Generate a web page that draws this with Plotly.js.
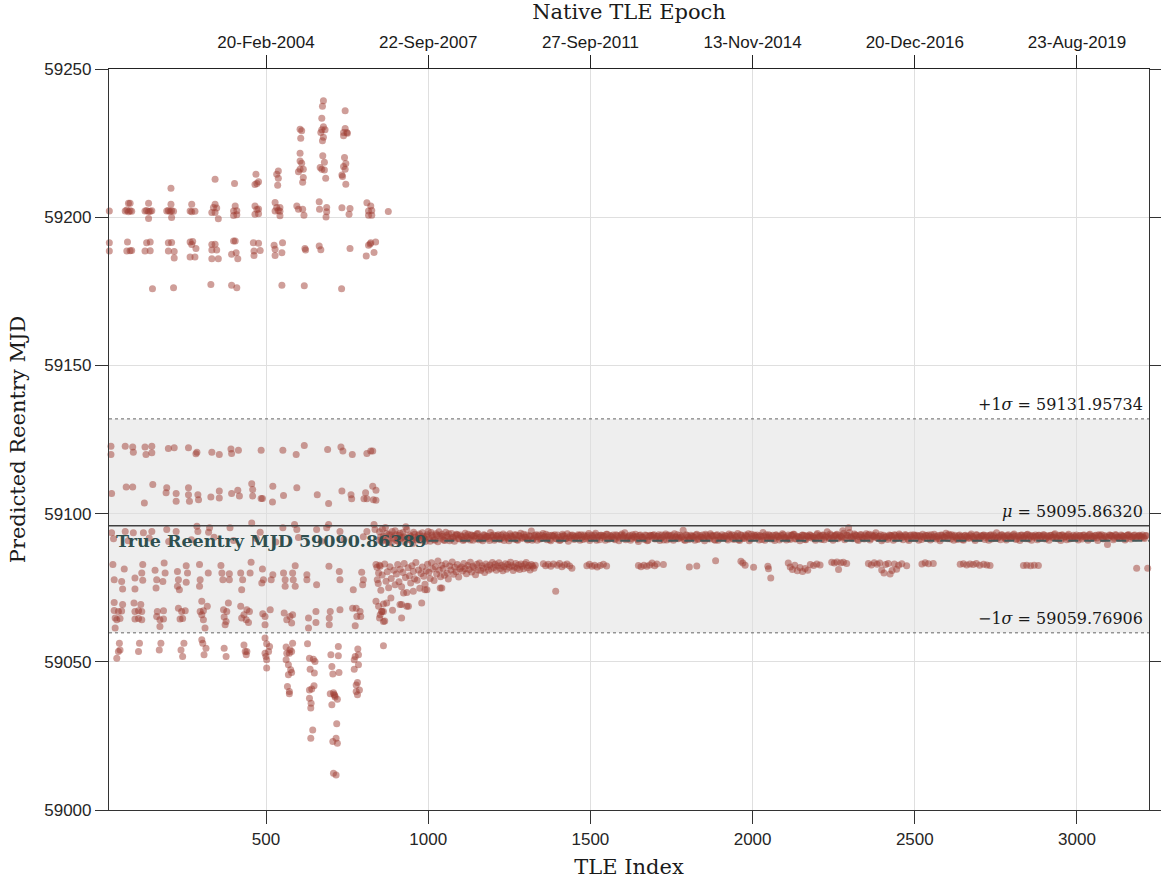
<!DOCTYPE html>
<html>
<head>
<meta charset="utf-8">
<script src="https://cdn.plot.ly/plotly-3.0.1.min.js"></script>
<style>html,body{margin:0;padding:0;background:#fff;}#chart{width:1161px;height:880px;}</style>
</head>
<body>
<div id="chart"></div>
<script>
// ---------- Summary statistics ----------
const MU = 59095.86320;
const SIGMA_PLUS = 59131.95734;
const SIGMA_MINUS = 59059.76906;
const TRUE_REENTRY = 59090.86389;

// ---------- Top axis (native TLE epoch) ----------
const epochTickIdx = [500, 1000, 1500, 2000, 2500, 3000];
const epochTickText = ['20-Feb-2004', '22-Sep-2007', '27-Sep-2011', '13-Nov-2014', '20-Dec-2016', '23-Aug-2019'];

// ---------- Early era: upper cluster [TLE index, predicted MJD] ----------
const upperPts = [
  [17,59202.1],[17,59191.4],[17,59188.6],
  [76,59204.7],[81,59204.7],[66,59202.1],[71,59202.4],[76,59201.8],[81,59202.2],[86,59202.0],[73,59191.6],[71,59188.6],[81,59188.7],[86,59188.8],
  [138,59204.7],[127,59202.1],[132,59202.3],[138,59201.9],[143,59202.0],[148,59202.2],[138,59199.6],[132,59191.4],[143,59191.6],[127,59188.6],[143,59188.7],[150,59175.9],
  [207,59209.8],[207,59204.4],[194,59202.1],[199,59202.3],[204,59201.9],[209,59202.2],[215,59202.0],[209,59199.9],[199,59191.4],[209,59191.5],[199,59188.6],[217,59188.4],[217,59186.2],[215,59176.2],
  [271,59204.4],[266,59202.1],[271,59201.8],[281,59202.0],[266,59191.6],[274,59191.8],[271,59190.8],[284,59189.4],[266,59186.6],[281,59186.6],
  [343,59212.8],[343,59204.4],[338,59203.3],[348,59203.1],[333,59201.6],[343,59201.6],[353,59199.5],[333,59190.8],[343,59190.9],[333,59188.9],[348,59188.9],[333,59186.0],[353,59186.0],[330,59177.3],
  [403,59211.4],[405,59203.8],[400,59202.1],[410,59202.2],[400,59200.6],[410,59200.8],[400,59192.0],[405,59192.0],[408,59188.0],[394,59187.5],[413,59186.0],[394,59177.0],[410,59176.2],
  [469,59214.5],[466,59211.0],[472,59211.4],[477,59212.0],[466,59203.8],[472,59202.6],[477,59202.8],[466,59201.0],[477,59201.2],[461,59191.4],[477,59191.2],[463,59188.6],[482,59188.8],[463,59187.1],
  [538,59215.6],[533,59214.5],[538,59213.1],[536,59210.8],[528,59205.0],[533,59203.3],[543,59203.3],[528,59202.1],[538,59202.3],[543,59202.0],[543,59200.5],[525,59190.5],[528,59189.2],[549,59188.0],[551,59191.4],[528,59187.1],[549,59177.0],
  [605,59229.7],[610,59229.2],[607,59226.6],[605,59221.6],[605,59219.0],[610,59218.2],[605,59216.2],[615,59216.2],[600,59215.3],[615,59213.4],[613,59211.8],[595,59203.8],[600,59202.7],[613,59202.7],[617,59200.7],[620,59189.4],[622,59188.9],[618,59176.9],
  [677,59239.3],[674,59237.4],[672,59233.4],[677,59230.5],[682,59229.5],[672,59229.5],[669,59228.6],[677,59227.0],[674,59225.8],[675,59220.7],[680,59218.5],[667,59216.8],[672,59216.2],[680,59215.9],[684,59213.1],[664,59205.2],[687,59203.3],[665,59202.7],[687,59201.8],[685,59200.1],[664,59190.3],[669,59189.0],
  [744,59235.9],[744,59229.9],[739,59228.6],[749,59228.6],[751,59228.3],[739,59227.5],[742,59220.1],[746,59218.1],[739,59217.1],[744,59216.2],[734,59214.2],[736,59213.7],[746,59211.1],[734,59203.2],[759,59202.9],[756,59201.0],[759,59189.4],[733,59175.9],
  [811,59204.9],[823,59203.8],[816,59202.1],[826,59202.3],[816,59200.7],[826,59200.7],[823,59191.4],[838,59191.6],[816,59190.5],[821,59191.0],[833,59188.1],[809,59186.9],
  [877,59201.9]
];

// ---------- Early era: rows inside the 1-sigma band above the mean ----------
const upperBandPts = [
  [22,59122.7],[22,59119.9],[66,59122.7],[89,59122.5],[91,59120.7],[127,59122.5],[130,59119.9],[148,59122.7],[148,59120.5],[199,59122.0],[217,59122.2],[261,59122.2],[287,59120.7],[284,59120.2],[333,59120.7],[356,59119.9],[392,59121.8],[394,59120.3],[415,59121.4],[485,59121.4],[552,59121.4],[593,59119.9],[618,59123.0],[690,59121.6],[731,59122.5],[737,59121.1],[766,59119.9],[811,59120.3],[823,59121.1],[829,59121.1],
  [24,59106.8],[69,59109.0],[89,59109.0],[125,59103.6],[151,59109.8],[194,59108.7],[192,59107.0],[223,59106.8],[223,59104.2],[261,59108.7],[261,59106.4],[264,59104.2],[290,59106.4],[292,59104.7],[330,59105.6],[356,59107.6],[356,59105.3],[394,59106.8],[413,59107.9],[418,59105.9],[456,59110.1],[459,59108.1],[459,59105.9],[485,59105.1],[489,59105.1],[521,59109.2],[520,59103.9],[554,59106.1],[595,59108.7],[658,59106.4],[693,59103.4],[734,59107.6],[762,59106.4],[764,59105.0],[802,59105.0],[807,59107.0],[811,59105.0],[829,59109.2],[831,59104.7],[839,59107.9],[839,59104.5]
];

// ---------- Early era: rows around the mean / true reentry ----------
const nearMeanPts = [
  [24,59093.5],[66,59094.0],[91,59093.5],[122,59093.5],[148,59094.0],[194,59094.6],[223,59094.0],[287,59095.7],[290,59094.0],[326,59095.2],[323,59093.7],[389,59095.2],[456,59096.8],[482,59093.7],[552,59095.2],[588,59096.3],[595,59094.6],[656,59094.6],[687,59095.2],[693,59096.3],[728,59094.0],[811,59094.0],[833,59096.3],[836,59094.6],
  [30,59091.5],[75,59090.8],[140,59091.8],[200,59090.6],[270,59091.2],[340,59092.0],[400,59090.9],[470,59091.6],[530,59090.4],[600,59091.9],[670,59090.7],[740,59091.3],[800,59092.2],[850,59091.0]
];

// ---------- Early era: rows inside the band below the mean ----------
const lowerBandPts = [
  [28,59082.8],[32,59077.7],[55,59077.1],[58,59074.6],[32,59070.0],[58,59069.3],[32,59067.3],[45,59067.0],[55,59067.1],[35,59064.8],[50,59064.6],[40,59064.2],[35,59061.4],
  [120,59082.8],[63,59081.3],[117,59080.0],[96,59078.3],[120,59077.5],[96,59074.6],[93,59069.8],[114,59069.3],[96,59067.0],[107,59067.2],[117,59067.0],[96,59064.4],[107,59064.6],[117,59064.2],
  [186,59083.3],[158,59080.9],[189,59080.0],[163,59077.7],[161,59074.9],[182,59077.1],[165,59067.0],[184,59067.2],[163,59065.3],[173,59064.2],[184,59064.4],[173,59061.9],
  [254,59082.4],[227,59080.5],[258,59080.0],[230,59077.7],[254,59076.8],[227,59075.5],[233,59074.3],[230,59068.1],[240,59067.0],[251,59067.2],[235,59064.4],[243,59064.6],
  [295,59082.8],[322,59080.0],[297,59077.7],[295,59075.5],[302,59070.4],[319,59068.7],[297,59067.0],[307,59067.2],[302,59065.9],[307,59064.2],[312,59061.4],
  [361,59082.5],[387,59079.7],[364,59080.0],[367,59077.7],[387,59077.7],[384,59069.8],[369,59067.6],[379,59067.0],[371,59065.1],[377,59063.6],[374,59062.5],
  [454,59083.6],[422,59080.0],[451,59080.0],[428,59077.7],[425,59074.3],[422,59068.7],[441,59067.6],[449,59067.0],[432,59065.9],[439,59064.2],[446,59063.3],[425,59064.8],
  [489,59081.3],[521,59079.4],[492,59077.7],[516,59077.7],[487,59076.6],[513,59067.6],[490,59066.2],[497,59065.3],[497,59062.5],
  [590,59082.4],[554,59080.0],[582,59080.0],[559,59077.7],[584,59077.7],[559,59075.5],[590,59075.5],[556,59066.5],[574,59065.3],[564,59064.2],[579,59063.1],[582,59065.9],
  [626,59079.4],[626,59077.7],[656,59076.0],[654,59067.0],[631,59064.8],[654,59063.3],[631,59061.4],
  [694,59082.2],[726,59080.5],[728,59077.7],[728,59067.6],[698,59067.0],[695,59064.8],[695,59062.5],
  [795,59080.2],[800,59077.7],[798,59076.0],[769,59074.3],[767,59068.1],[778,59068.1],[790,59067.0],[780,59065.3],[792,59065.3],[775,59062.2],
  [839,59082.8],[852,59082.2],[847,59080.0],[843,59077.7],[839,59070.4],[847,59068.7],[857,59067.0],[862,59067.0],[852,59065.9],[850,59064.8],[862,59063.6]
];

// ---------- Early era: below the band (lower tail) ----------
const lowerTailPts = [
  [48,59056.3],[45,59053.5],[50,59054.0],[40,59051.2],
  [110,59056.3],[107,59053.5],
  [176,59056.3],[171,59054.0],
  [247,59056.3],[238,59054.0],[243,59051.8],
  [302,59057.4],[305,59056.3],[315,59054.6],[309,59052.4],
  [371,59054.6],[377,59051.8],
  [432,59055.7],[441,59053.5],[436,59053.5],[439,59052.4],
  [497,59058.0],[502,59056.1],[511,59055.2],[508,59053.5],[497,59052.9],[500,59051.8],[502,59050.7],[502,59047.9],
  [582,59056.3],[562,59055.0],[574,59054.1],[579,59053.5],[564,59052.9],[572,59052.9],[562,59050.7],[569,59049.0],[576,59047.3],[579,59046.4],[569,59045.6],[566,59041.7],[572,59040.0],[572,59039.2],
  [628,59056.1],[634,59051.2],[646,59050.9],[651,59050.1],[636,59047.5],[649,59046.2],[648,59041.9],[641,59040.8],[634,59040.5],[634,59037.7],[639,59036.0],[638,59034.4],[644,59027.0],[638,59024.2],
  [723,59055.2],[700,59052.4],[723,59052.0],[703,59048.4],[725,59046.4],[706,59045.9],[708,59039.6],[698,59039.2],[713,59038.1],[720,59037.4],[710,59039.0],[712,59038.6],[703,59035.5],[718,59029.1],[716,59024.2],[706,59023.1],[720,59022.5],[708,59012.4],[716,59011.8],
  [783,59054.3],[785,59052.4],[775,59051.8],[772,59050.7],[785,59049.0],[772,59047.5],[782,59043.0],[778,59042.2],[788,59040.5],[778,59040.0],[782,59038.9],
  [862,59055.4]
];

// ---------- Converged era: main band near true reentry (sequential TLE index), two interleaved runs ----------
const mainBandStartIdx = 850;
const mainBandIdxStep = 6;
const mainBandMjd = [
  59093.9,59090.6,59092.4,59095.3,59091.2,59093.1,59090.1,59092.0,59094.2,59090.8,59092.7,59091.5,59093.6,59090.4,59094.6,59091.8,59092.3,59089.9,59093.0,59091.1,
  59092.6,59090.9,59093.5,59091.6,59092.2,59094.0,59090.7,59092.8,59091.3,59093.2,59090.5,59092.5,59093.0,59091.1,59093.7,59092.1,59090.8,59093.3,59091.9,59092.6,
  59092.9,59091.4,59092.3,59090.9,59093.4,59092.0,59091.7,59092.8,59091.0,59092.5,59093.1,59091.2,59092.2,59090.8,59092.7,59092.4,59091.6,59093.6,59092.1,59091.0,
  59092.6,59092.9,59091.3,59092.0,59090.9,59092.7,59091.7,59093.2,59092.3,59091.4,59092.8,59091.0,59092.4,59091.8,59093.0,59092.0,59091.1,59092.5,59094.1,59091.5,
  59092.2,59091.0,59092.8,59091.6,59093.3,59092.3,59091.2,59092.7,59090.8,59092.5,59092.9,59091.4,59092.0,59091.1,59093.0,59092.4,59091.7,59090.7,59092.6,59092.8,
  59091.3,59092.4,59092.9,59091.0,59092.1,59092.8,59091.5,59092.6,59090.9,59092.7,59091.8,59093.4,59092.0,59091.2,59092.7,59092.5,59091.0,59093.0,59091.4,59092.2,
  59092.8,59091.2,59092.6,59090.8,59092.7,59092.1,59093.5,59091.7,59092.4,59091.0,59092.9,59091.9,59092.3,59090.6,59092.8,59092.0,59091.3,59092.6,59091.0,59092.7,
  59092.1,59092.9,59091.6,59092.4,59090.9,59092.8,59091.1,59093.1,59092.5,59091.4,59092.7,59091.0,59092.2,59092.9,59091.8,59092.0,59094.4,59090.9,59092.6,59091.3,
  59092.7,59092.3,59091.0,59093.0,59091.5,59092.1,59092.8,59090.8,59092.6,59091.7,59093.2,59092.4,59091.2,59092.7,59091.0,59092.2,59092.9,59091.8,59092.4,59091.1,
  59092.6,59092.9,59091.3,59092.0,59093.3,59090.9,59092.6,59091.6,59092.8,59092.2,59090.8,59093.0,59091.8,59092.5,59092.8,59091.1,59092.3,59093.6,59091.0,59092.1,
  59092.9,59091.4,59092.7,59090.9,59092.8,59092.3,59091.7,59093.2,59092.0,59091.1,59092.8,59091.3,59092.6,59093.0,59091.5,59092.2,59090.8,59092.7,59092.6,59091.2,
  59092.4,59092.9,59091.8,59092.1,59091.0,59093.3,59092.5,59091.3,59092.8,59092.0,59093.9,59091.6,59092.7,59091.0,59092.6,59093.0,59091.9,59092.3,59094.2,59091.2,
  59092.8,59095.2,59092.2,59091.5,59093.1,59092.6,59090.9,59092.9,59092.1,59091.4,59093.2,59092.7,59091.1,59092.8,59092.3,59093.5,59091.7,59092.4,59090.8,59092.7,
  59092.0,59091.3,59092.8,59092.5,59091.0,59092.7,59091.9,59093.1,59092.4,59091.2,59092.9,59092.2,59090.9,59092.8,59091.6,59092.6,59092.7,59091.0,59092.3,59093.0,
  59091.8,59092.5,59092.8,59091.1,59092.1,59093.0,59091.4,59092.6,59090.8,59092.7,59092.0,59093.4,59091.5,59092.6,59092.9,59091.0,59092.2,59091.3,59092.8,59092.4,
  59091.0,59092.7,59092.4,59091.7,59093.1,59092.1,59090.9,59092.8,59091.9,59092.5,59092.7,59091.3,59092.6,59091.0,59092.9,59092.3,59091.6,59093.5,59092.0,59091.2,
  59092.8,59092.4,59091.1,59092.9,59091.8,59092.2,59093.1,59091.3,59092.6,59090.9,59092.8,59092.0,59091.5,59093.0,59092.6,59091.0,59092.4,59092.8,59091.2,59092.7,
  59092.2,59092.9,59091.4,59092.5,59091.0,59092.7,59092.1,59093.2,59091.7,59092.7,59090.9,59092.8,59092.3,59091.2,59093.0,59092.4,59091.6,59092.0,59092.8,59091.1,
  59092.6,59091.4,59092.8,59092.1,59091.0,59093.0,59092.4,59091.8,59092.7,59090.9,59092.6,59092.9,59091.5,59092.2,59089.6,59092.8,59092.5,59091.2,59092.9,59092.0,
  59091.7,59092.8,59092.4,59091.1,59092.7,59092.9,59091.4,59092.1,59092.8,59091.9,59092.5,59092.3,59092.8,59091.6,59092.6
];
const mainBandStartIdxB = 853;
const mainBandMjdB = [
  59092.1,59094.8,59091.0,59093.3,59090.3,59092.6,59094.0,59091.4,59092.9,59090.7,59093.4,59091.9,59092.2,59095.6,59091.3,59092.8,59090.9,59093.7,59092.0,59091.6,
  59093.1,59091.8,59092.4,59090.6,59092.9,59091.5,59093.6,59092.1,59091.0,59092.7,59093.9,59091.7,59092.3,59090.9,59092.6,59093.2,59091.4,59092.0,59090.7,59093.0,
  59091.6,59092.8,59092.2,59091.3,59092.5,59093.0,59091.1,59092.7,59092.4,59091.6,59093.3,59092.0,59091.4,59092.9,59091.9,59092.3,59090.9,59092.6,59092.8,59091.5,
  59092.3,59091.5,59092.7,59093.1,59091.8,59092.2,59090.8,59092.5,59091.9,59092.9,59091.2,59092.6,59093.4,59091.7,59092.1,59092.8,59091.3,59092.4,59091.0,59092.7,
  59092.9,59092.3,59091.4,59092.6,59091.9,59093.0,59092.1,59091.2,59092.7,59092.4,59091.6,59092.8,59090.9,59092.3,59092.6,59091.5,59093.2,59092.0,59091.8,59092.5,
  59092.0,59091.7,59092.6,59092.9,59091.3,59092.4,59092.1,59093.3,59091.6,59092.2,59092.8,59091.0,59092.5,59092.7,59091.9,59092.3,59093.0,59091.4,59092.6,59092.1,
  59091.5,59092.9,59092.2,59091.8,59093.1,59092.5,59091.2,59092.0,59092.7,59091.6,59092.4,59093.0,59091.3,59092.6,59092.1,59091.9,59092.8,59090.8,59092.3,59092.6,
  59092.7,59091.4,59092.3,59092.9,59091.7,59092.1,59092.6,59091.1,59092.8,59092.4,59091.8,59093.2,59092.0,59091.5,59092.7,59092.3,59091.2,59092.9,59092.1,59091.7,
  59092.4,59091.9,59092.8,59091.3,59092.6,59092.0,59091.6,59093.0,59092.2,59091.4,59092.7,59092.5,59091.0,59092.9,59092.3,59091.8,59092.1,59092.6,59091.5,59093.1,
  59092.2,59091.6,59092.7,59092.4,59091.2,59092.9,59092.0,59091.7,59092.5,59093.2,59091.4,59092.3,59092.8,59091.9,59092.1,59092.6,59091.3,59092.4,59092.9,59091.8,
  59092.5,59092.1,59091.5,59092.8,59092.3,59091.1,59092.6,59092.9,59091.8,59092.2,59091.6,59092.7,59093.0,59091.4,59092.4,59092.0,59091.9,59092.8,59091.3,59092.5,
  59092.0,59092.6,59092.3,59091.6,59092.9,59091.9,59092.4,59092.7,59091.2,59092.5,59092.1,59093.1,59091.7,59092.3,59092.8,59091.5,59092.6,59092.0,59093.4,59091.8,
  59092.6,59093.6,59091.9,59092.4,59092.8,59091.3,59092.2,59092.9,59091.7,59092.5,59092.0,59093.0,59091.6,59092.4,59092.7,59091.8,59092.3,59092.9,59091.4,59092.1,
  59092.4,59091.8,59092.6,59092.1,59092.9,59091.5,59092.3,59092.7,59091.9,59092.2,59092.8,59091.4,59092.5,59092.0,59092.9,59091.7,59092.4,59092.6,59091.3,59092.2,
  59092.7,59091.6,59092.3,59092.9,59091.8,59092.4,59092.1,59091.5,59092.8,59092.2,59091.9,59092.6,59093.0,59091.4,59092.3,59092.7,59091.7,59092.5,59092.0,59091.3,
  59092.5,59092.1,59091.8,59092.7,59092.3,59091.5,59092.9,59092.0,59091.6,59092.4,59092.8,59091.9,59092.2,59092.6,59091.4,59092.8,59092.1,59091.7,59092.5,59092.9,
  59092.0,59091.6,59092.6,59092.3,59091.9,59092.8,59092.4,59091.5,59092.1,59092.7,59091.8,59092.5,59092.9,59091.4,59092.2,59092.6,59091.9,59092.3,59092.7,59091.6,
  59092.4,59092.8,59091.7,59092.2,59092.6,59091.9,59092.9,59092.1,59091.5,59092.5,59092.8,59091.8,59092.3,59092.6,59091.4,59092.0,59092.7,59092.3,59091.8,59092.5,
  59092.1,59092.7,59091.9,59092.4,59092.8,59091.6,59092.2,59092.5,59091.8,59092.9,59092.3,59091.5,59092.6,59092.1,59091.9,59092.7,59092.4,59091.7,59092.8,59092.2,
  59091.9,59092.5,59092.2,59091.6,59092.8,59092.4,59092.0,59092.6,59091.8,59092.3,59092.7,59092.1,59091.9,59092.5
];

// ---------- Converged era: secondary band (sequential TLE index) ----------
const secondBandStartIdx = 842;
const secondBandIdxStep = 4;
const secondBandMjd = [
  59081.9,59076.4,59082.6,59074.1,59079.3,59069.5,59083.0,59077.2,59080.4,59075.0,59082.1,59078.1,59067.4,59080.9,59076.0,
  59079.6,59082.8,59077.0,59081.2,59075.3,59080.1,59083.2,59078.4,59073.4,59081.7,59079.0,59076.6,59082.4,59080.5,59078.0,59083.5,59077.5,59081.0,59074.8,59079.8,59082.0,59078.9,59076.2,59080.7,59082.9,
  59080.2,59078.1,59083.4,59081.3,59077.4,59082.1,59079.6,59084.0,59080.9,59078.7,59082.6,59081.5,59079.2,59083.1,59080.0,59077.9,59082.3,59081.0,59083.7,59079.5,59081.9,59080.4,59082.8,59078.6,59081.4,
  59082.0,59080.6,59083.2,59081.4,59079.7,59082.5,59081.1,59083.6,59080.3,59082.2,59081.7,59079.4,59082.9,59081.0,59083.3,59080.8,59082.4,59081.6,59080.1,59083.0,59082.1,59080.9,59082.7,59081.3,59083.5,
  59081.8,59082.9,59080.9,59082.3,59083.4,59081.5,59082.6,59080.7,59082.1,59083.1,59081.2,59082.8,59081.9,59083.6,59082.4,59080.8,59082.0,59083.2,59081.6,59082.7,59081.1,59083.0,59082.2,59081.4,59082.9,59083.5,59081.7,59082.5,59081.0,59082.8,59082.3,59081.6,59082.6
];

// ---------- Converged era: stragglers & later secondary clusters ----------
const transitionPts = [
  [872,59069.8],[857,59067.0],[913,59069.3],[934,59068.7],[980,59069.8],[924,59073.2],[954,59073.8],[996,59074.3],[1037,59074.9],[885,59071.5],[866,59063.8],
  [918,59069.3],[939,59068.7],[918,59064.8],[990,59074.3],[1042,59074.9]
];
const laterClusterPts = [
  [1355,59083.1],[1362,59082.4],[1370,59082.9],[1378,59082.2],[1386,59083.0],[1393,59073.8],[1398,59082.6],[1405,59083.2],[1412,59082.1],[1420,59082.7],[1428,59083.0],[1436,59082.3],[1443,59081.6],
  [1489,59082.4],[1497,59082.9],[1505,59082.2],[1513,59082.6],[1521,59082.0],[1530,59082.5],[1540,59082.9],[1550,59082.3],
  [1648,59082.5],[1656,59082.1],[1665,59082.6],[1674,59082.2],[1683,59082.7],[1690,59083.3],[1698,59082.4],[1705,59083.0],
  [1725,59082.8],[1805,59082.0],[1828,59082.3],[1886,59084.1],[1964,59083.9],[1970,59083.3],[1977,59082.6],[2003,59081.9],[2047,59082.2],[2049,59081.4],[2056,59078.3],
  [2110,59083.3],[2116,59082.0],[2123,59081.1],[2130,59082.6],[2138,59080.7],[2146,59081.8],[2154,59080.5],[2162,59081.5],[2170,59080.9],[2178,59082.8],[2188,59082.5],[2198,59083.0],[2208,59082.7],
  [2244,59083.6],[2252,59083.3],[2260,59083.7],[2265,59081.1],[2272,59083.4],[2280,59083.6],[2290,59083.2],
  [2357,59083.2],[2366,59082.7],[2375,59083.4],[2384,59082.9],[2392,59083.3],[2398,59081.0],[2405,59080.0],[2410,59082.8],[2418,59083.2],[2424,59079.6],[2430,59080.8],[2437,59083.0],[2444,59081.2],[2450,59082.6],[2460,59083.1],[2475,59082.4],
  [2522,59083.0],[2532,59083.4],[2542,59083.1],[2557,59083.2],
  [2640,59082.9],[2650,59083.1],[2660,59082.7],[2670,59083.0],[2680,59082.8],[2690,59083.2],[2700,59082.6],[2712,59082.9],[2722,59082.7],[2732,59082.5],
  [2835,59082.5],[2845,59082.6],[2857,59082.4],[2868,59082.6],[2881,59082.5],
  [3184,59081.6],[3218,59081.6]
];

// ---------- Assemble ----------
const X_RANGE = [16, 3222];
const Y_RANGE = [59000, 59250];

const xs = [], ys = [];
[upperPts, upperBandPts, nearMeanPts, lowerBandPts, lowerTailPts, transitionPts, laterClusterPts].forEach(list => {
  list.forEach(p => { xs.push(p[0]); ys.push(p[1]); });
});
secondBandMjd.forEach((v, i) => { xs.push(secondBandStartIdx + i * secondBandIdxStep); ys.push(v); });
mainBandMjd.forEach((v, i) => { xs.push(mainBandStartIdx + i * mainBandIdxStep); ys.push(v); });
mainBandMjdB.forEach((v, i) => { xs.push(mainBandStartIdxB + i * mainBandIdxStep); ys.push(v); });

const markerColor = 'rgb(160,62,52)';
const serif = 'DejaVu Serif, Liberation Serif, serif';
const sans = 'Liberation Sans, Arial, Helvetica, sans-serif';

const traces = [
  {
    type: 'scatter', mode: 'markers', x: xs, y: ys,
    marker: { color: markerColor, size: 7, opacity: 0.5, line: { width: 0 } },
    cliponaxis: false, hoverinfo: 'x+y', showlegend: false
  },
  { // carrier for the top (epoch) axis
    type: 'scatter', mode: 'markers', x: X_RANGE, y: [null, null], xaxis: 'x2', yaxis: 'y',
    marker: { opacity: 0 }, hoverinfo: 'skip', showlegend: false
  }
];

const layout = {
  width: 1161, height: 880,
  margin: { l: 109, r: 12, t: 69, b: 70 },
  paper_bgcolor: '#ffffff', plot_bgcolor: '#ffffff',
  font: { family: sans, size: 17, color: '#262626' },
  showlegend: false,
  xaxis: {
    range: X_RANGE, tickvals: epochTickIdx, ticks: 'outside', ticklen: 13, tickcolor: '#333',
    showline: true, linecolor: '#333', linewidth: 1.2, mirror: false,
    showgrid: true, gridcolor: '#dfdfdf', gridwidth: 1, zeroline: false,
    tickfont: { family: sans, size: 17, color: '#262626' },
    title: { text: 'TLE Index', font: { family: serif, size: 21, color: '#1a1a1a' }, standoff: 11 }
  },
  xaxis2: {
    overlaying: 'x', side: 'top', range: X_RANGE, tickvals: epochTickIdx, ticktext: epochTickText,
    ticks: 'outside', ticklen: 13, tickcolor: '#222', showline: true, linecolor: '#222', linewidth: 1.2,
    showgrid: false, zeroline: false,
    tickfont: { family: sans, size: 17, color: '#1a1a1a' },
    title: { text: 'Native TLE Epoch', font: { family: serif, size: 21, color: '#1a1a1a' }, standoff: 10 }
  },
  yaxis: {
    range: Y_RANGE, dtick: 50, tick0: 59000, ticks: 'outside', ticklen: 13, tickcolor: '#333',
    showline: true, linecolor: '#333', linewidth: 1.2, mirror: 'ticks',
    showgrid: true, gridcolor: '#dfdfdf', gridwidth: 1, zeroline: false,
    tickformat: 'd',
    tickfont: { family: sans, size: 17, color: '#262626' },
    title: { text: 'Predicted Reentry MJD', font: { family: serif, size: 21, color: '#1a1a1a' }, standoff: 12 }
  },
  shapes: [
    { type: 'rect', xref: 'paper', x0: 0, x1: 1, yref: 'y', y0: SIGMA_MINUS, y1: SIGMA_PLUS,
      fillcolor: '#eeeeee', line: { width: 0 }, layer: 'below' },
    { type: 'line', xref: 'paper', x0: 0, x1: 1, yref: 'y', y0: SIGMA_PLUS, y1: SIGMA_PLUS,
      line: { color: '#666', width: 1, dash: 'dot' }, layer: 'above' },
    { type: 'line', xref: 'paper', x0: 0, x1: 1, yref: 'y', y0: SIGMA_MINUS, y1: SIGMA_MINUS,
      line: { color: '#666', width: 1, dash: 'dot' }, layer: 'above' },
    { type: 'line', xref: 'paper', x0: 0, x1: 1, yref: 'y', y0: MU, y1: MU,
      line: { color: '#404040', width: 1.5 }, layer: 'above' },
    { type: 'line', xref: 'paper', x0: 0.307, x1: 1, yref: 'y', y0: TRUE_REENTRY, y1: TRUE_REENTRY,
      line: { color: '#455a5a', width: 2, dash: '10px,6px' }, layer: 'above' }
  ],
  annotations: [
    { xref: 'paper', x: 1, xanchor: 'right', xshift: -4, yref: 'y', y: SIGMA_PLUS, yanchor: 'bottom', yshift: 3,
      text: '+1<i>σ</i> = 59131.95734', showarrow: false, font: { family: serif, size: 16, color: '#1a1a1a' } },
    { xref: 'paper', x: 1, xanchor: 'right', xshift: -4, yref: 'y', y: MU, yanchor: 'bottom', yshift: 3,
      text: '<i>μ</i> = 59095.86320', showarrow: false, font: { family: serif, size: 16, color: '#1a1a1a' } },
    { xref: 'paper', x: 1, xanchor: 'right', xshift: -4, yref: 'y', y: SIGMA_MINUS, yanchor: 'bottom', yshift: 3,
      text: '−1<i>σ</i> = 59059.76906', showarrow: false, font: { family: serif, size: 16, color: '#1a1a1a' } },
    { xref: 'paper', x: 0, xanchor: 'left', xshift: 5, yref: 'y', y: TRUE_REENTRY, yanchor: 'middle',
      text: '<b>True Reentry MJD 59090.86389</b>', showarrow: false,
      font: { family: serif, size: 17.5, color: '#2f4f4f' } }
  ]
};

Plotly.newPlot('chart', traces, layout, { displayModeBar: false, responsive: false });
</script>
</body>
</html>
